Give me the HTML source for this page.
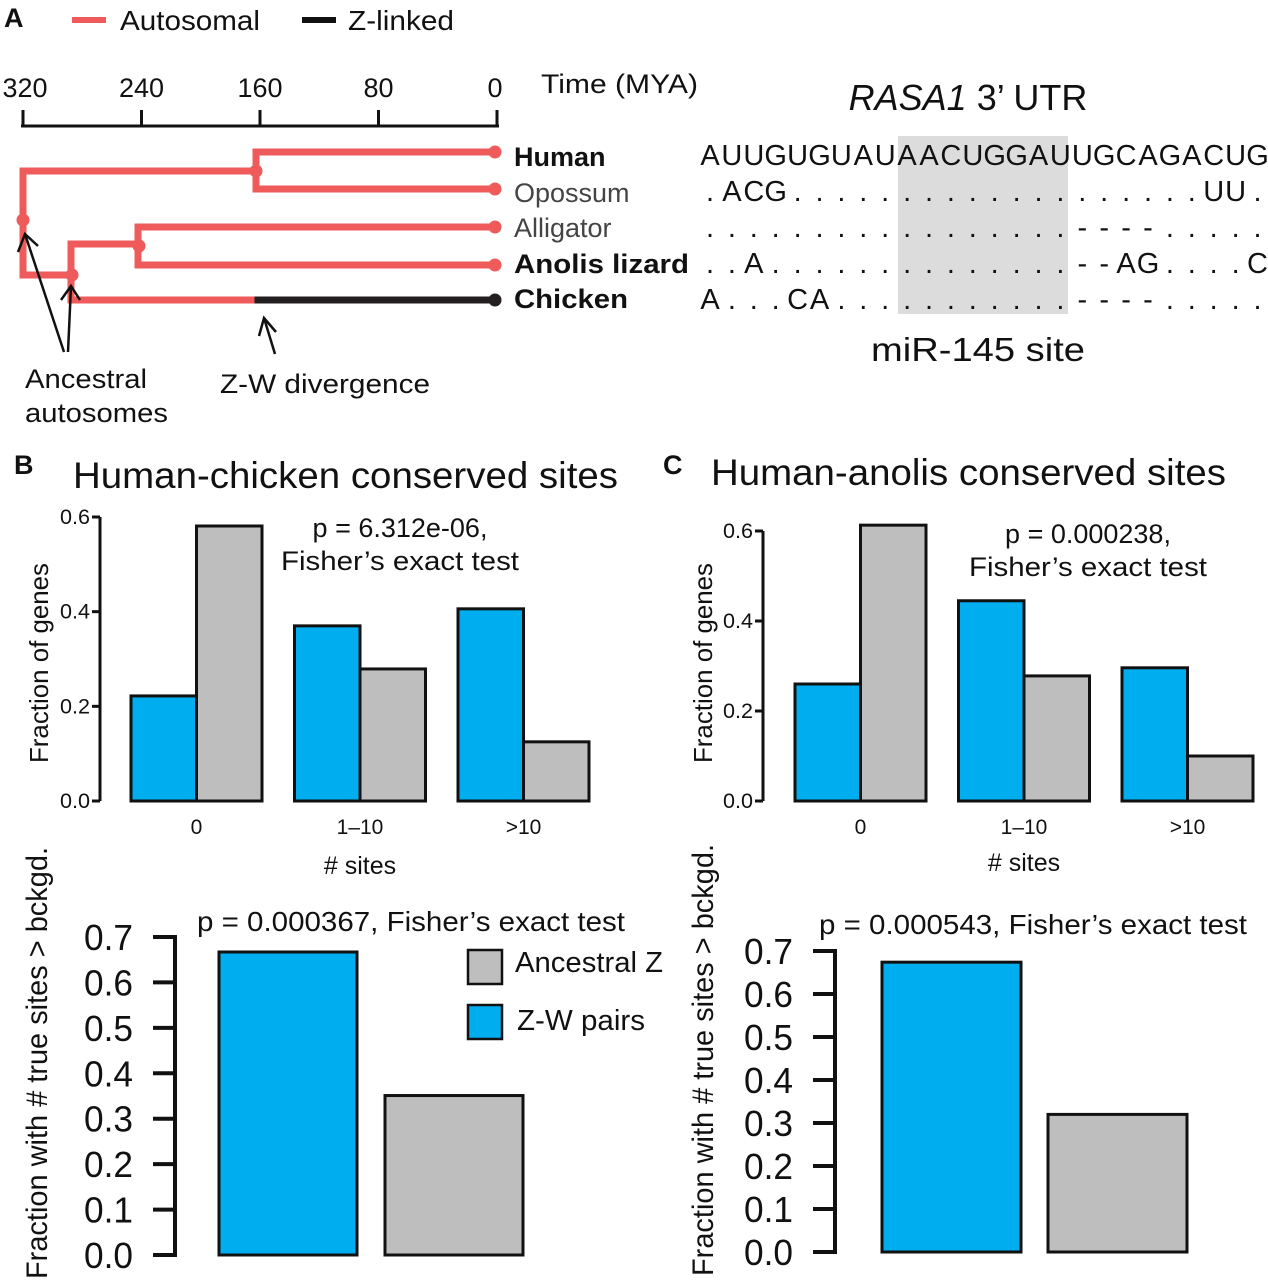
<!DOCTYPE html>
<html><head><meta charset="utf-8"><style>
html,body{margin:0;padding:0;background:#fff}
svg{display:block}
text{font-family:"Liberation Sans",sans-serif;fill:#111}
</style></head><body>
<svg id="fig" width="1268" height="1280" viewBox="0 0 1268 1280" xmlns="http://www.w3.org/2000/svg">
<text x="4" y="27" font-size="27" font-weight="bold">A</text>
<g>
<line x1="72" y1="20" x2="106" y2="20" stroke="#ef5b5b" stroke-width="6"/>
<text x="120" y="30" font-size="28" textLength="140" lengthAdjust="spacingAndGlyphs">Autosomal</text>
<line x1="302" y1="20" x2="336" y2="20" stroke="#111" stroke-width="6"/>
<text x="348" y="30" font-size="28" textLength="106" lengthAdjust="spacingAndGlyphs">Z-linked</text>
</g>
<g>
<line x1="21" y1="126" x2="499" y2="126" stroke="#111" stroke-width="3"/>
<g id="timeTicks"></g>
<text x="541" y="93" font-size="27" textLength="157" lengthAdjust="spacingAndGlyphs">Time (MYA)</text>
</g>
<g id="tree"></g>
<g>
<text x="514" y="166" font-size="27" font-weight="bold">Human</text>
<text x="514" y="202" font-size="27" style="fill:#444">Opossum</text>
<text x="514" y="237" font-size="27" style="fill:#444">Alligator</text>
<text x="514" y="273" font-size="27" font-weight="bold" textLength="175" lengthAdjust="spacingAndGlyphs">Anolis lizard</text>
<text x="514" y="308" font-size="27" font-weight="bold" textLength="114" lengthAdjust="spacingAndGlyphs">Chicken</text>
</g>
<g stroke="#111" stroke-width="2.5" fill="none">
<line x1="64" y1="352" x2="25" y2="234"/><polyline points="18,252 25,234 38,246"/>
<line x1="68" y1="352" x2="71" y2="286"/><polyline points="61,300 71,286 80,300"/>
<line x1="275" y1="354" x2="264" y2="318"/><polyline points="259,336 264,318 276,332"/>
</g>
<text x="25" y="388" font-size="27" textLength="122" lengthAdjust="spacingAndGlyphs">Ancestral</text>
<text x="25" y="422" font-size="27" textLength="143" lengthAdjust="spacingAndGlyphs">autosomes</text>
<text x="220" y="393" font-size="27" textLength="210" lengthAdjust="spacingAndGlyphs">Z-W divergence</text>
<text x="968" y="110" font-size="36" text-anchor="middle"><tspan font-style="italic">RASA1</tspan> 3’ UTR</text>
<rect x="898" y="136" width="170" height="178" fill="#dcdcdc"/>
<g id="align"></g>
<text x="978" y="361" font-size="33" text-anchor="middle" textLength="214" lengthAdjust="spacingAndGlyphs">miR-145 site</text>

<text x="14" y="474" font-size="27" font-weight="bold">B</text>
<text x="73" y="488" font-size="37" textLength="545" lengthAdjust="spacingAndGlyphs">Human-chicken conserved sites</text>
<text x="663" y="474" font-size="27" font-weight="bold">C</text>
<text x="711" y="485" font-size="37" textLength="515" lengthAdjust="spacingAndGlyphs">Human-anolis conserved sites</text>

<g id="chartBT"></g>
<g id="chartCT"></g>
<g id="chartBB"></g>
<g id="chartCB"></g>

<g>
<rect x="468" y="950" width="34" height="34" fill="#bebebe" stroke="#111" stroke-width="2.5"/>
<text x="515" y="972" font-size="29" textLength="148" lengthAdjust="spacingAndGlyphs">Ancestral Z</text>
<rect x="468" y="1005" width="34" height="34" fill="#00aeef" stroke="#111" stroke-width="2.5"/>
<text x="517" y="1030" font-size="29" textLength="128" lengthAdjust="spacingAndGlyphs">Z-W pairs</text>
</g>
</svg>
<script>
const NS="http://www.w3.org/2000/svg";
const timeTicks=[320,240,160,80,0];
const categories=["0","1–10",">10"];
const bTopBlue=[0.222,0.37,0.406];
const bTopGray=[0.581,0.279,0.125];
const cTopBlue=[0.26,0.445,0.296];
const cTopGray=[0.613,0.278,0.10];
const topTicks=[0.0,0.2,0.4,0.6];
const bBottomVals=[0.667,0.351];
const cBottomVals=[0.674,0.32];
const bottomTicks=[0.0,0.1,0.2,0.3,0.4,0.5,0.6,0.7];
const bottomCats=["Z-W pairs","Ancestral Z"];
const seqRows=[
"AUUGUGUAUAACUGGAUUGCAGACUG",
".ACG...................UU.",
".................----.....",
"..A..............--AG....C",
"A...CA...........----....."];

function el(tag,attrs,parent,txt){const e=document.createElementNS(NS,tag);for(const k in attrs)e.setAttribute(k,attrs[k]);if(txt!==undefined)e.textContent=txt;parent.appendChild(e);return e;}

const tX=t=>23+(320-t)*(474/320);
const tt=document.getElementById('timeTicks');
timeTicks.forEach(t=>{
  const l=el('line',{x1:tX(t),y1:110,x2:tX(t),y2:126,stroke:'#111','stroke-width':3},tt);
  
  
  const tx=el('text',{x:tX(t)+(t===320?2:0)-(t===0?2:0),y:97,'font-size':27,'text-anchor':'middle'},tt,String(t));
  
  
});

const tr=document.getElementById('tree');
const R='#ef5b5b';
function seg(x1,y1,x2,y2,c){const l=el('line',{x1,y1,x2,y2,stroke:c,'stroke-width':7,'stroke-linecap':'square'},tr);}
function dot(x,y,c){const d=el('circle',{cx:x,cy:y,r:6.5,fill:c},tr);}
seg(256,152,495,152,R);seg(256,189,495,189,R);seg(256,152,256,189,R);
seg(23,171,256,171,R);seg(23,171,23,275,R);
seg(138,227,495,227,R);seg(138,265,495,265,R);seg(138,227,138,265,R);
seg(71,244,138,244,R);seg(71,244,71,300,R);seg(23,275,71,275,R);
seg(71,300,258,300,R);seg(258,300,495,300,'#231f20');
dot(495,152,R);dot(495,189,R);dot(495,227,R);dot(495,265,R);dot(495,300,'#231f20');
dot(256,171,R);dot(23,220,R);dot(139,246,R);dot(72,275,R);

const al=document.getElementById('align');
const rowY=[165,201,237,273,309];
seqRows.forEach((s,r)=>{
  for(let i=0;i<s.length;i++){
    const t=el('text',{x:710+i*21.9,y:rowY[r],'font-size':29,'text-anchor':'middle','font-family':'DejaVu Sans Condensed, DejaVu Sans, sans-serif'},al,s[i]);
    
    
  }
});

function grouped(id,cfg){
  const g=document.getElementById(id);
  const y=v=>cfg.y0-v*cfg.ppu;
  el('line',{x1:cfg.ax,y1:y(0),x2:cfg.ax,y2:y(0.6),stroke:'#111','stroke-width':3},g);
  topTicks.forEach(t=>{
    const l=el('line',{x1:cfg.ax-8,y1:y(t),x2:cfg.ax,y2:y(t),stroke:'#111','stroke-width':3},g);
    
    const tx=el('text',{x:cfg.ax-10,y:y(t)+7,'font-size':21,'text-anchor':'end',textLength:30,lengthAdjust:'spacingAndGlyphs'},g,t.toFixed(1));
    
  });
  categories.forEach((c,i)=>{
    const x0=cfg.x0+i*cfg.gap;
    const b=el('rect',{x:x0,y:y(cfg.blue[i]),width:cfg.bw,height:cfg.blue[i]*cfg.ppu,fill:'#00aeef',stroke:'#111','stroke-width':3},g);
    
    const r=el('rect',{x:x0+cfg.bw,y:y(cfg.gray[i]),width:cfg.bw,height:cfg.gray[i]*cfg.ppu,fill:'#bebebe',stroke:'#111','stroke-width':3},g);
    
    const tx=el('text',{x:x0+cfg.bw,y:834,'font-size':21,'text-anchor':'middle'},g,c);
    
  });
  const xt=el('text',{x:cfg.x0+cfg.gap+cfg.bw,y:cfg.xtY,'font-size':25,'text-anchor':'middle'},g,'# sites');
  
  const yt=el('text',{x:0,y:0,'font-size':26,'text-anchor':'middle',textLength:200,lengthAdjust:'spacingAndGlyphs',transform:`translate(${cfg.ytx},663) rotate(-90)`},g,'Fraction of genes');
  
  const p1=el('text',{x:cfg.px,y:cfg.py,'font-size':27,'text-anchor':'middle'},g,cfg.p);
  
  const p2=el('text',{x:cfg.px,y:cfg.py+33,'font-size':27,'text-anchor':'middle',textLength:238,lengthAdjust:'spacingAndGlyphs'},g,'Fisher’s exact test');
  
}
grouped('chartBT',{ax:100,y0:801,ppu:284/0.6,x0:131,bw:65.5,gap:163.5,blue:bTopBlue,gray:bTopGray,xtY:874,ytx:48,px:400,py:537,p:'p = 6.312e-06,'});
grouped('chartCT',{ax:763,y0:801,ppu:270/0.6,x0:795,bw:65.5,gap:163.5,blue:cTopBlue,gray:cTopGray,xtY:871,ytx:712,px:1088,py:543,p:'p = 0.000238,'});

function simple(id,cfg){
  const g=document.getElementById(id);
  const y=v=>cfg.y0-v*cfg.ppu;
  el('line',{x1:cfg.ax,y1:y(0)+2,x2:cfg.ax,y2:y(0.7)-2,stroke:'#111','stroke-width':4},g);
  bottomTicks.forEach(t=>{
    const l=el('line',{x1:cfg.ax-22,y1:y(t),x2:cfg.ax,y2:y(t),stroke:'#111','stroke-width':4},g);
    
    const tx=el('text',{x:cfg.ax-42,y:y(t)+13,'font-size':36,'text-anchor':'end',textLength:49,lengthAdjust:'spacingAndGlyphs'},g,t.toFixed(1));
    
  });
  const fills=['#00aeef','#bebebe'];
  bottomCats.forEach((c,i)=>{
    const r=el('rect',{x:cfg.x0+i*cfg.gap,y:y(cfg.vals[i]),width:cfg.bw,height:cfg.vals[i]*cfg.ppu,fill:fills[i],stroke:'#111','stroke-width':3},g);
    
  });
  const yt=el('text',{x:0,y:0,'font-size':30,'text-anchor':'middle',textLength:432,lengthAdjust:'spacingAndGlyphs',transform:`translate(${cfg.ytx},${cfg.yty}) rotate(-90)`},g,'Fraction with # true sites > bckgd.');
  
  const p=el('text',{x:cfg.px,y:cfg.py,'font-size':28,'text-anchor':'middle',textLength:cfg.pl,lengthAdjust:'spacingAndGlyphs'},g,cfg.p);
  
}
simple('chartBB',{ax:175,y0:1255,ppu:318/0.7,x0:219,bw:138,gap:166,vals:bBottomVals,ytx:47,yty:1063,px:411,py:931,pl:428,p:'p = 0.000367, Fisher’s exact test'});
simple('chartCB',{ax:835,y0:1252,ppu:301/0.7,x0:882,bw:139,gap:166,vals:cBottomVals,ytx:713,yty:1060,px:1033,py:934,pl:428,p:'p = 0.000543, Fisher’s exact test'});
</script>
</body></html>
